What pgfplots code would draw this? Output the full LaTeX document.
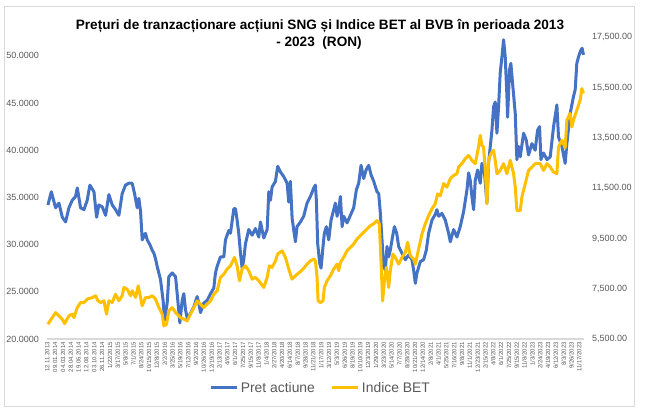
\documentclass[border=0pt]{standalone}
\usepackage{pgfplots}
\pgfplotsset{compat=1.18}
\usepackage{pgfplotstable}
\usepackage{fontspec}
\setmainfont{Liberation Sans}
\definecolor{sngblue}{HTML}{4472C4}
\definecolor{betyellow}{HTML}{FFC000}
\definecolor{lblgray}{HTML}{595959}
\definecolor{bordergray}{HTML}{D9D9D9}

\pgfplotstableread{
x y
0.08 34.2
0.51 35.6
1.06 33.9
1.49 34.4
1.91 32.9
2.34 32.4
2.76 33.9
3.19 34.7
3.61 35.1
3.83 36.0
4.25 33.9
4.68 33.7
5.10 34.7
5.44 36.3
5.96 35.6
6.30 32.9
6.59 34.2
7.02 34.0
7.45 33.1
7.87 35.3
8.30 34.2
8.72 33.7
9.15 33.1
9.57 35.4
10.00 36.3
10.43 36.5
10.85 36.5
11.15 35.4
11.49 33.9
11.70 34.9
11.92 33.5
12.13 30.5
12.55 31.2
12.77 30.5
13.11 30.0
13.41 29.4
13.62 29.1
13.83 28.5
14.04 27.7
14.47 26.3
14.81 24.0
14.98 22.0
15.32 23.8
15.53 26.6
15.96 27.0
16.39 26.6
16.60 24.8
16.94 21.7
17.24 24.1
17.45 24.8
17.66 23.1
17.88 22.2
18.30 22.7
18.73 23.4
19.15 24.5
19.36 23.8
19.58 22.8
20.00 23.8
20.43 24.1
20.86 24.8
21.28 25.4
21.49 27.0
21.71 27.7
22.13 28.7
22.56 28.7
22.77 30.5
23.20 31.5
23.41 31.2
23.84 33.8
24.05 33.8
24.26 32.6
24.47 31.2
24.69 29.1
24.90 27.5
25.11 28.4
25.33 30.1
25.75 31.6
26.18 31.0
26.60 31.7
27.03 30.8
27.24 32.4
27.67 30.7
28.10 31.6
28.31 35.6
28.52 34.7
28.73 36.1
29.16 36.7
29.45 38.3
29.80 37.7
30.22 37.2
30.65 36.5
30.86 34.5
31.07 36.7
31.29 32.8
31.71 30.3
31.92 31.9
32.35 32.4
32.77 33.0
33.20 34.4
33.63 35.1
34.05 36.0
34.27 36.3
34.39 34.7
34.56 30.1
34.82 28.0
34.99 27.5
35.24 29.8
35.41 31.2
35.67 31.9
35.97 30.5
36.27 32.6
36.61 33.7
36.82 34.4
37.04 33.0
37.25 33.7
37.46 35.1
37.68 31.9
37.89 33.0
38.31 32.3
38.74 33.1
39.16 33.9
39.50 35.8
39.80 36.5
40.10 38.4
40.44 37.0
40.74 37.9
41.08 38.4
41.38 37.4
41.72 36.7
42.14 35.6
42.36 35.4
42.57 33.3
42.78 30.5
42.99 27.7
43.21 27.3
43.42 29.8
43.63 28.7
43.84 29.4
44.06 30.5
44.36 31.9
44.66 31.2
44.91 29.8
45.33 29.1
45.76 28.4
46.18 28.9
46.61 28.4
46.82 27.3
47.04 25.9
47.25 27.0
47.68 28.2
48.10 28.4
48.44 29.4
48.74 31.2
49.17 32.6
49.59 33.2
49.80 33.7
50.02 33.0
50.44 33.3
50.87 32.6
51.29 31.2
51.51 30.3
51.93 31.6
52.36 30.8
52.78 31.9
53.21 33.5
53.64 35.8
53.85 37.6
54.06 36.8
54.27 35.1
54.49 33.7
54.70 36.8
55.00 37.9
55.34 36.5
55.55 38.6
55.85 37.9
56.19 34.4
56.40 38.6
56.62 40.4
56.83 42.1
57.04 44.6
57.25 45.1
57.47 41.8
57.68 44.6
57.89 48.2
58.11 49.9
58.32 51.7
58.53 49.9
58.75 45.7
58.83 43.5
59.08 48.5
59.25 49.2
59.51 46.7
59.81 43.9
60.02 39.0
60.24 40.4
60.45 39.3
60.88 41.8
61.21 41.1
61.51 39.5
61.94 40.7
62.36 40.0
62.66 42.1
62.92 42.5
63.09 39.0
63.43 39.7
63.86 39.0
64.28 39.3
64.71 42.5
65.13 44.8
65.34 41.4
65.77 40.4
66.19 38.6
66.41 40.7
66.83 43.9
67.26 45.7
67.47 46.4
67.68 49.2
67.90 49.9
68.19 50.6
68.36 50.8
68.53 50.1
}\sngtable

\pgfplotstableread{
x y
0.08 6090
0.63 6350
1.06 6550
1.49 6420
1.91 6290
2.21 6110
2.76 6420
3.19 6490
3.40 6350
3.83 6750
4.25 6950
4.68 6950
5.10 7085
5.74 7150
6.17 7220
6.47 7020
6.81 6950
7.23 7020
7.57 6490
7.87 7020
8.30 6950
8.72 7280
9.15 7020
9.57 7220
9.79 7550
10.21 7480
10.64 7220
10.85 7420
11.28 7150
11.62 7615
11.92 7150
12.13 6820
12.55 7150
12.98 7150
13.41 7220
13.83 7085
14.26 6750
14.68 6490
14.90 6020
15.24 6090
15.53 6620
15.96 6750
16.39 6550
16.81 6420
17.02 6350
17.45 6290
17.88 6220
18.30 6490
18.73 6750
19.15 7015
19.58 6885
20.00 6750
20.43 6885
20.86 7015
21.28 7280
21.71 7420
22.13 7950
22.56 8080
22.98 8280
23.41 8410
23.92 8745
24.26 8410
24.56 7815
24.90 8280
25.33 8410
25.75 8215
26.18 7880
26.60 7950
27.03 7815
27.67 7550
28.10 7950
28.39 8410
28.73 8350
29.16 8610
29.45 8880
30.01 9010
30.43 8745
30.86 8280
31.29 7880
31.71 8015
32.35 8180
32.77 8310
33.20 8480
33.63 8610
34.05 8680
34.27 8610
34.48 7950
34.61 7015
34.90 6950
35.24 7015
35.41 7550
35.76 7815
36.18 8015
36.61 8280
37.03 8480
37.25 8215
37.46 8545
37.88 8745
38.31 9015
38.74 9145
39.16 9280
39.59 9480
40.01 9610
40.44 9745
40.86 9880
41.29 10010
41.72 10080
42.14 10210
42.44 10080
42.65 8610
42.86 7015
43.08 7815
43.33 8345
43.63 7550
43.84 8215
44.18 8880
44.48 8745
44.91 8480
45.33 8745
45.76 8945
46.06 9345
46.40 8815
46.82 8680
47.04 8480
47.46 9080
47.89 9680
48.31 10080
48.74 10410
49.17 10680
49.59 10880
49.89 11270
50.23 11200
50.66 11680
51.08 11540
51.51 11875
51.93 12005
52.36 12075
52.57 12340
53.00 12475
53.42 12675
53.85 12800
54.27 12605
54.70 12475
55.12 13135
55.34 13600
55.55 13205
55.76 13135
55.98 12205
56.19 10875
56.40 12605
56.70 12875
57.04 13005
57.25 12605
57.47 12075
57.89 12205
58.32 12475
58.75 12075
59.17 12605
59.60 12075
59.81 11540
60.02 10610
60.45 10610
60.66 11140
61.09 11675
61.51 12205
61.94 12340
62.36 12475
63.00 12475
63.43 12205
63.85 12475
64.28 12340
64.70 12140
65.13 12075
65.34 13135
65.77 13405
66.19 13100
66.41 14205
66.83 14470
67.04 13935
67.26 14205
67.68 14600
68.11 15000
68.32 15460
68.53 15270
}\bettable

\begin{document}
\begin{tikzpicture}[x=1pt,y=1pt]
\path[use as bounding box] (0,0) rectangle (647,410);
\draw[bordergray, line width=0.8pt] (4,4) rectangle (634,404);
\node[anchor=base, font=\bfseries\fontsize{13.6}{17}\selectfont, text=black, inner sep=0pt] at (320,380)
  {Prețuri de tranzacționare acțiuni SNG și Indice BET al BVB în perioada 2013};
\node[anchor=base, font=\bfseries\fontsize{13.6}{17}\selectfont, text=black, inner sep=0pt] at (319,363)
  {- 2023\ \ (RON)};

\begin{axis}[
  at={(47pt,71pt)}, anchor=south west,
  scale only axis, width=537pt, height=301.7pt,
  xmin=-0.04, xmax=68.6, ymin=20, ymax=51.96,
  axis x line*=bottom, axis y line*=left,
  x axis line style={draw=bordergray, line width=2.5pt, -},
  y axis line style={draw=none},
  major tick length=0pt, tick style={draw=none},
  xtick={0,...,68},
  xticklabels={12.11.2013,09.01.2014,04.03.2014,28.04.2014,19.06.2014,12.08.2014,03.10.2014,26.11.2014,1/22/2015,3/17/2015,5/8/2015,7/1/2015,8/24/2015,10/15/2015,12/8/2015,2/2/2016,3/25/2016,5/19/2016,7/12/2016,9/2/2016,10/26/2016,12/19/2016,2/13/2017,4/6/2017,6/1/2017,7/25/2017,9/15/2017,11/8/2017,1/4/2018,2/27/2018,4/20/2018,6/14/2018,8/7/2018,9/28/2018,11/21/2018,1/17/2019,3/12/2019,5/3/2019,6/26/2019,8/19/2019,10/10/2019,12/3/2019,1/29/2020,3/23/2020,5/14/2020,7/7/2020,8/28/2020,10/21/2020,12/14/2020,2/8/2021,4/1/2021,5/25/2021,7/16/2021,9/8/2021,11/1/2021,12/23/2021,2/15/2022,4/8/2022,6/1/2022,7/25/2022,9/15/2022,11/8/2022,1/3/2023,2/24/2023,4/19/2023,6/12/2023,8/3/2023,9/26/2023,11/17/2023},
  xticklabel style={rotate=90, anchor=east, font=\fontsize{6}{6}\selectfont, text=lblgray, inner sep=0pt},
  xticklabel shift=3pt,
  ytick={20,25,...,50},
  yticklabel style={font=\fontsize{9}{9}\selectfont, text=lblgray, anchor=east, inner sep=0pt},
  yticklabel shift=8pt,
  clip=false,
  /pgf/number format/.cd, fixed, fixed zerofill, precision=4, assume math mode=true
]
\addplot[sngblue, line width=3pt, line join=round] table[x=x,y=y] {\sngtable};
\end{axis}

\begin{axis}[
  at={(47pt,71pt)}, anchor=south west,
  scale only axis, width=537pt, height=301.7pt,
  xmin=-0.04, xmax=68.6, ymin=5500, ymax=17500,
  axis x line=none, axis y line*=right,
  y axis line style={draw=none},
  major tick length=0pt, tick style={draw=none},
  ytick={5500,7500,...,17500},
  scaled y ticks=false,
  yticklabel style={font=\fontsize{9}{9}\selectfont, text=lblgray, anchor=west, inner sep=0pt},
  yticklabel shift=8pt,
  clip=false,
  legend style={at={(0.51,-0.162)}, anchor=center, draw=none, fill=none,
    legend columns=2, font=\fontsize{13.9}{14}\selectfont, text=lblgray,
    /tikz/every even column/.append style={column sep=14pt}},
  legend image code/.code={\draw[#1] (0pt,0pt) -- (26pt,0pt);},
  /pgf/number format/.cd, fixed, fixed zerofill, precision=2, 1000 sep={,}, assume math mode=true
]
\addlegendimage{sngblue, line width=3pt}
\addlegendentry{Pret actiune}
\addplot[betyellow, line width=3pt, line join=round] table[x=x,y=y] {\bettable};
\addlegendentry{Indice BET}
\end{axis}
\end{tikzpicture}
\end{document}
